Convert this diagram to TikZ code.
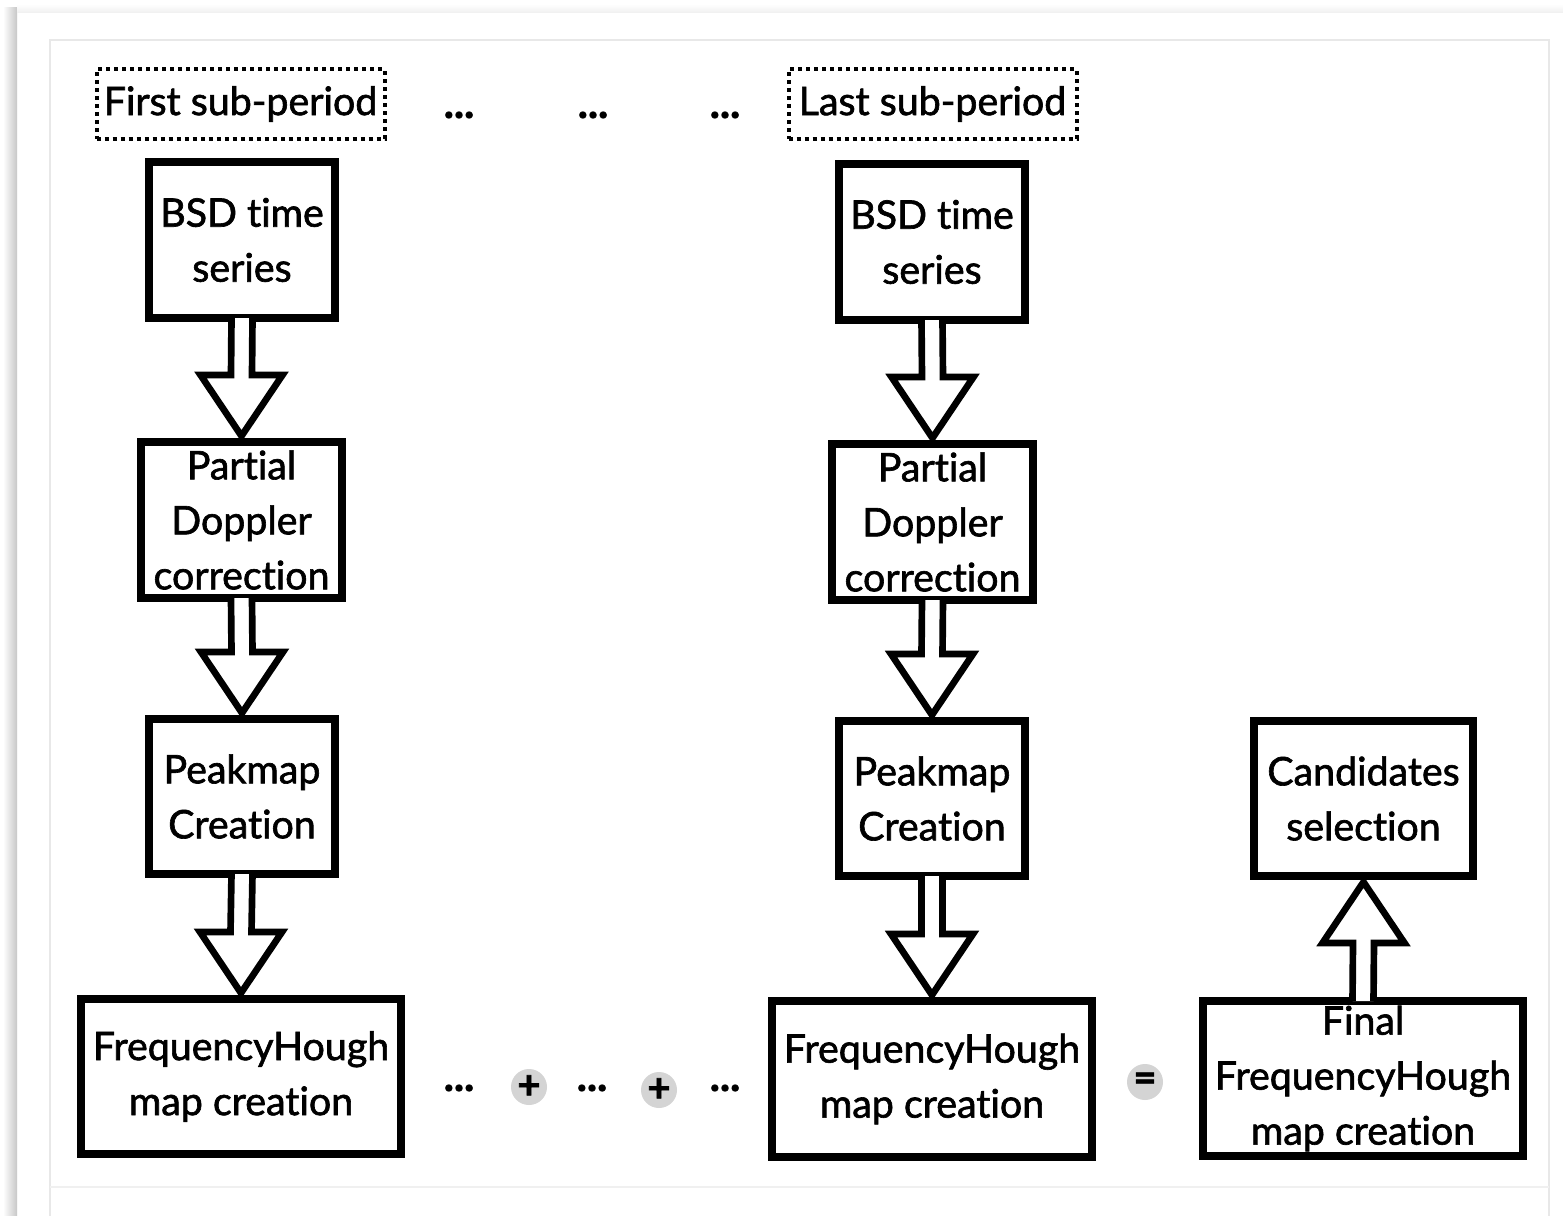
\documentclass[tikz,border=0pt]{standalone}
\usepackage{fontspec}
\setmainfont{Lato}[Ligatures=NoCommon, FakeBold=1.6]
\usetikzlibrary{calc}
\begin{document}
\begin{tikzpicture}[x=0.75pt,y=-0.75pt,
  txt/.style={font=\fontsize{29.5}{41.25}\selectfont},
  box/.style={draw, line width=6pt, fill=white, inner sep=0pt, outer sep=0pt, align=center, txt},
  periodbox/.style={draw, line width=3pt, dash pattern=on 3pt off 3pt, inner sep=0pt, outer sep=0pt, align=center, txt, minimum width=216pt, minimum height=52pt},
  barrow/.style={draw, line width=5pt, fill=white, line join=miter},
  opcirc/.style={circle, fill=black!17, minimum size=27pt, inner sep=0pt, font=\fontsize{30}{30}\bfseries\selectfont},
  dots/.style={font=\fontsize{32}{32}\bfseries\selectfont}
]
\useasboundingbox (0,0) rectangle (1563,1216);
% page background and shadow
\fill[white] (0,0) rectangle (1563,1216);
\shade[left color=white, right color=black!22] (3,8) rectangle (17,1216);
\shade[top color=white, bottom color=black!6] (17,4) rectangle (1563,13);
\draw[black!9, line width=1.2pt] (50,1216) -- (50,40) -- (1549,40) -- (1549,1216);
\draw[black!6, line width=1pt] (50,1187) -- (1549,1187);

% left column
\node[periodbox] (fsp) at (240.5,104) {First sub-period};
\node[box, minimum width=139.5pt, minimum height=117pt] (bsd1) at (242,240) {BSD time\\ series};
\node[box, minimum width=150.75pt, minimum height=117pt] (pdc1) at (241.5,520) {Partial\\ Doppler\\ correction};
\node[box, minimum width=139.5pt, minimum height=116.25pt] (pm1) at (242,796.5) {Peakmap\\ Creation};
\node[box, minimum width=240pt, minimum height=116.25pt] (fh1) at (241,1076.5) {FrequencyHough\\ map creation};

% right column
\node[periodbox] (lsp) at (932.5,104) {Last sub-period};
\node[box, minimum width=139.5pt, minimum height=117pt] (bsd2) at (932,242) {BSD time\\ series};
\node[box, minimum width=150.75pt, minimum height=117pt] (pdc2) at (932.5,522) {Partial\\ Doppler\\ correction};
\node[box, minimum width=139.5pt, minimum height=116.25pt] (pm2) at (932,798.5) {Peakmap\\ Creation};
\node[box, minimum width=240pt, minimum height=117pt] (fh2) at (932,1079) {FrequencyHough\\ map creation};

% far right
\node[box, minimum width=164.25pt, minimum height=116.25pt] (cs) at (1363.5,798.5) {Candidates\\ selection};
\node[box, minimum width=240pt, minimum height=116.25pt] (ffh) at (1363,1078.5) {Final\\ FrequencyHough\\ map creation};

% dots top
\node[dots] (t1) at (459,115) {...};
\node[dots] (t2) at (593,115) {...};
\node[dots] (t3) at (725,115) {...};
% bottom sum
\node[dots] (b1) at (459,1088) {...};
\node[opcirc] (p1) at (529,1087) {+};
\node[dots] (b2) at (592,1088) {...};
\node[opcirc] (p2) at (659,1090) {+};
\node[dots] (b3) at (725,1088) {...};
\node[opcirc] (eq) at (1145,1082) {=};

\newcommand{\dnarrow}[2]{%
  \draw[barrow] ($(#1.south)+(-10.5,0)$) -- ($(#2.north)+(-10.5,-67)$) -- ($(#2.north)+(-41,-67)$) -- ($(#2.north)+(0,-6)$) -- ($(#2.north)+(41,-67)$) -- ($(#2.north)+(10.5,-67)$) -- ($(#1.south)+(10.5,0)$);}
\newcommand{\uparr}[2]{%
  \draw[barrow] ($(#1.north)+(-10.5,0)$) -- ($(#2.south)+(-10.5,67)$) -- ($(#2.south)+(-41,67)$) -- ($(#2.south)+(0,6)$) -- ($(#2.south)+(41,67)$) -- ($(#2.south)+(10.5,67)$) -- ($(#1.north)+(10.5,0)$);}

\dnarrow{bsd1}{pdc1}
\dnarrow{pdc1}{pm1}
\dnarrow{pm1}{fh1}
\dnarrow{bsd2}{pdc2}
\dnarrow{pdc2}{pm2}
\dnarrow{pm2}{fh2}
\uparr{ffh}{cs}
\end{tikzpicture}
\end{document}
